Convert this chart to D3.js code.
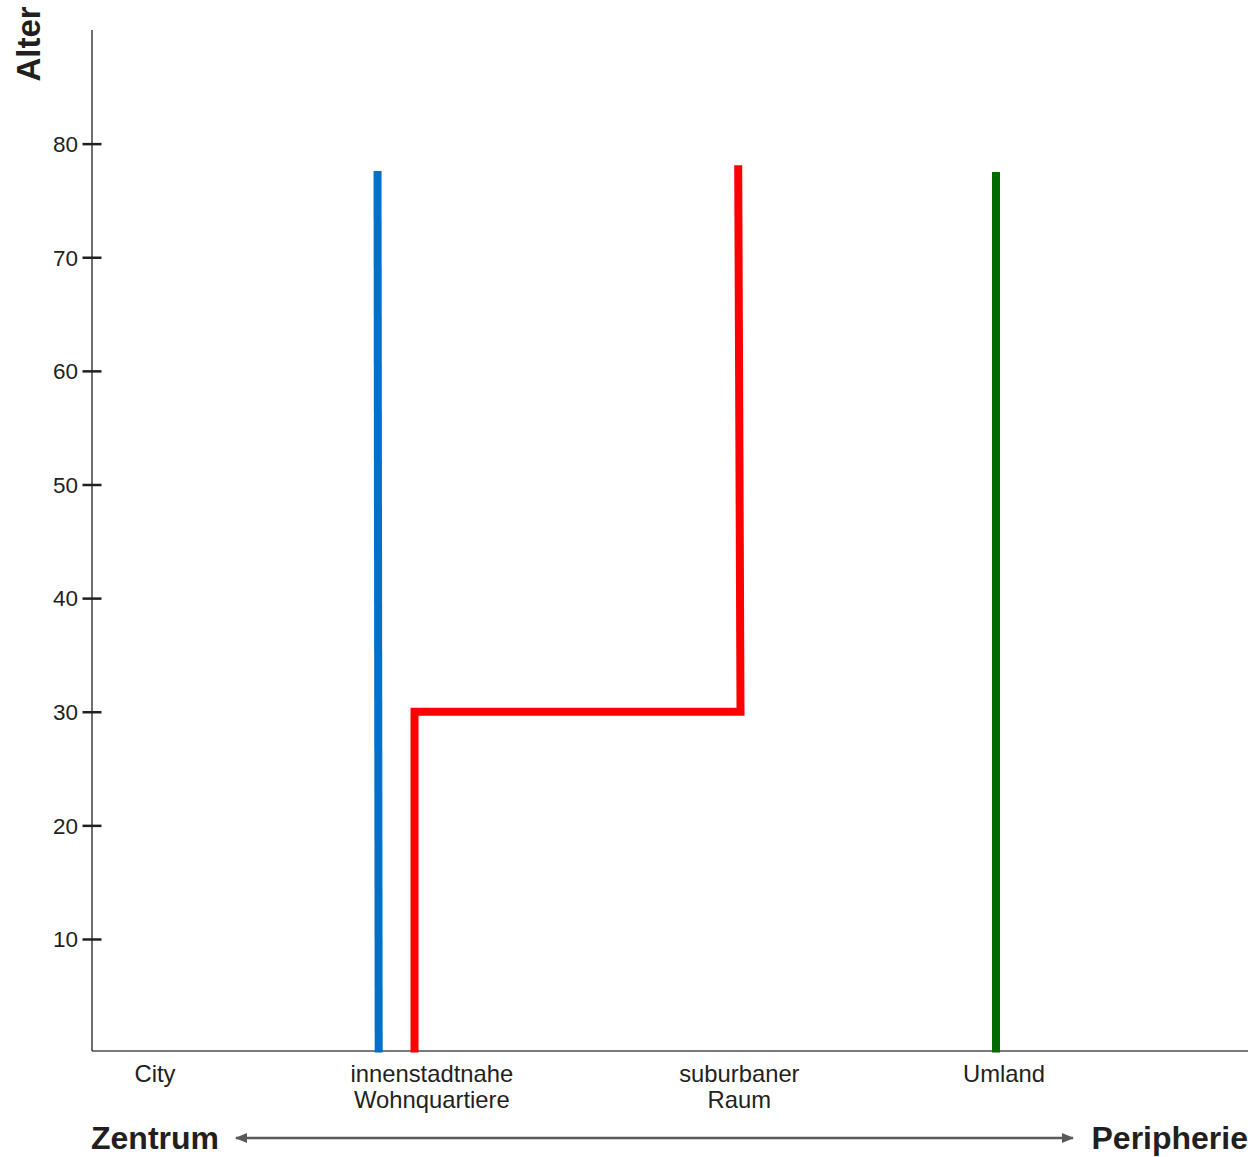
<!DOCTYPE html>
<html><head><meta charset="utf-8">
<script src="https://cdn.jsdelivr.net/npm/d3@7"></script>
<style>html,body{margin:0;padding:0;background:#fff}svg{display:block}text{font-family:"Liberation Sans",Arial,sans-serif}</style>
</head><body>
<script>
// Data
const categories = [
  {lines:["City"], pos:0.545},
  {lines:["innenstadtnahe","Wohnquartiere"], pos:2.94},
  {lines:["suburbaner","Raum"], pos:5.6},
  {lines:["Umland"], pos:7.89}
];
const yTicks = [10,20,30,40,50,60,70,80];
const blueLine  = [{x:2.48,y:0},{x:2.47,y:77.6}];
const redLine   = [{x:2.79,y:0},{x:2.79,y:30},{x:5.61,y:30},{x:5.59,y:78.1}];
const greenLine = [{x:7.82,y:0},{x:7.82,y:77.5}];
const series = [
  {name:"blue", color:"#0070c8", pts:blueLine},
  {name:"red", color:"#ff0000", pts:redLine},
  {name:"green", color:"#006a00", pts:greenLine}
];

const W=1248,H=1157;
const svg=d3.select("body").append("svg").attr("width",W).attr("height",H);
const x=d3.scaleLinear().domain([0,10]).range([92,1248]);
const y=d3.scaleLinear().domain([0,90]).range([1052.6,30]);

// x axis line
svg.append("line").attr("x1",92).attr("x2",1248).attr("y1",1051).attr("y2",1051)
  .attr("stroke","#7a7a7a").attr("stroke-width",2);

// y axis
const yAxis=d3.axisLeft(y).tickValues(yTicks).tickSize(0).tickPadding(14);
const gy=svg.append("g").attr("transform","translate(92,0)").call(yAxis);
gy.select(".domain").remove();
gy.selectAll(".tick text").attr("font-size",22.5).attr("fill","#231f20")
  .attr("font-family","'Liberation Sans',Arial,sans-serif").attr("dy","0.35em");
gy.selectAll(".tick").append("line").attr("x1",-9.5).attr("x2",9.5)
  .attr("stroke","#231f20").attr("stroke-width",2.5);
svg.append("line").attr("x1",92).attr("x2",92).attr("y1",y(90)).attr("y2",1051)
  .attr("stroke","#231f20").attr("stroke-width",1.3);

// y title
svg.append("text").attr("transform","translate(40,44) rotate(-90)")
  .attr("text-anchor","middle").attr("font-size",33).attr("font-weight","bold")
  .attr("fill","#231f20").text("Alter");

// category labels
const cg=svg.append("g");
categories.forEach(c=>{
  const t=cg.append("text").attr("x",x(c.pos)).attr("y",1082).attr("text-anchor","middle")
    .attr("font-size",23.8).attr("fill","#231f20");
  c.lines.forEach((l,i)=>t.append("tspan").attr("x",x(c.pos)).attr("dy",i?26:0).text(l));
});

// lines
const line=d3.line().x(d=>x(d.x)).y(d=>y(d.y));
series.forEach(s=>{
  svg.append("path").attr("d",line(s.pts)).attr("fill","none")
    .attr("stroke",s.color).attr("stroke-width",8).attr("stroke-linejoin","miter")
    .attr("stroke-linecap","butt");
});

// bottom arrow
const defs=svg.append("defs");
defs.append("marker").attr("id","ah").attr("viewBox","0 0 10 10").attr("refX",9).attr("refY",5)
  .attr("markerWidth",5).attr("markerHeight",5).attr("markerUnits","strokeWidth").attr("orient","auto-start-reverse")
  .append("path").attr("d","M0,1 L10,5 L0,9 Z").attr("fill","#5a5a5a");
svg.append("line").attr("x1",236).attr("x2",1073).attr("y1",1138).attr("y2",1138)
  .attr("stroke","#5a5a5a").attr("stroke-width",2.5)
  .attr("marker-start","url(#ah)").attr("marker-end","url(#ah)");
svg.append("text").attr("x",91).attr("y",1149).attr("font-size",32).attr("font-weight","bold")
  .attr("fill","#231f20").text("Zentrum");
svg.append("text").attr("x",1248).attr("y",1149).attr("text-anchor","end").attr("font-size",32).attr("font-weight","bold")
  .attr("fill","#231f20").text("Peripherie");
</script>
</body></html>
